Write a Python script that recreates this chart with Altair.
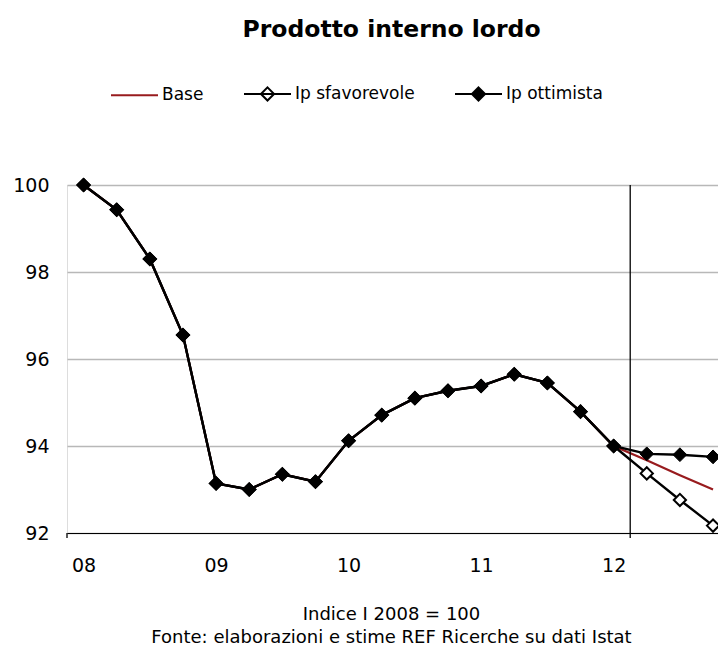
import altair as alt
import pandas as pd

# ---- data ----
quarters = ["2008-T1", "2008-T2", "2008-T3", "2008-T4",
            "2009-T1", "2009-T2", "2009-T3", "2009-T4",
            "2010-T1", "2010-T2", "2010-T3", "2010-T4",
            "2011-T1", "2011-T2", "2011-T3", "2011-T4",
            "2012-T1", "2012-T2", "2012-T3", "2012-T4"]
year_tick_idx = [0, 4, 8, 12, 16]
year_labels = ["08", "09", "10", "11", "12"]

history = [100.0, 99.43, 98.30, 96.55,
           93.14, 93.00, 93.35, 93.18,
           94.12, 94.71, 95.10, 95.27,
           95.38, 95.65, 95.45, 94.79,
           94.00]
base = history + [93.67, 93.33, 93.00]
sfavorevole = history + [93.37, 92.76, 92.17]
ottimista = history + [93.82, 93.80, 93.75]

series_names = ["Base", "Ip sfavorevole", "Ip ottimista"]
forecast_boundary = 16.5  # between 2012-T1 and 2012-T2

RED = "#981b1e"
FONT = "DejaVu Sans"

rows = []
for name, vals in zip(series_names, [base, sfavorevole, ottimista]):
    for i, (q, v) in enumerate(zip(quarters, vals)):
        rows.append({"serie": name, "trimestre": q, "idx": i, "valore": v})
df = pd.DataFrame(rows)

label_expr = "[" + ",".join(f"'{l}'" for l in year_labels) + "][round(datum.value/4)]"

x_enc = alt.X(
    "idx:Q",
    scale=alt.Scale(domain=[-0.5, 19.15], nice=False, zero=False),
    axis=alt.Axis(
        values=year_tick_idx, labelExpr=label_expr, ticks=False, grid=False,
        domainColor="black", domainWidth=1, labelFontSize=19, labelFont=FONT,
        labelColor="black", labelPadding=23, zindex=1,
        title=["Indice I 2008 = 100",
               "Fonte: elaborazioni e stime REF Ricerche su dati Istat"],
        titleFont=FONT, titleFontSize=18, titleFontWeight="normal",
        titleColor="black", titleX=324, titleY=72, titleBaseline="top",
        titleAlign="center", titleLineHeight=23,
    ),
)
y_enc = alt.Y(
    "valore:Q",
    scale=alt.Scale(domain=[92, 100], nice=False, zero=False),
    axis=alt.Axis(
        values=[92, 94, 96, 98, 100], domain=False, ticks=False, grid=True,
        gridColor="#b8b8b8", gridWidth=1.5, labelFontSize=19, labelFont=FONT,
        labelColor="black", labelPadding=18, title=None,
    ),
)

base_chart = alt.Chart(df)

line_base = base_chart.transform_filter(alt.datum.serie == "Base").mark_line(
    color=RED, strokeWidth=2.2).encode(x=x_enc, y=y_enc)
line_sfav = base_chart.transform_filter(alt.datum.serie == "Ip sfavorevole").mark_line(
    color="black", strokeWidth=2.4).encode(x=x_enc, y=y_enc)
pts_sfav = base_chart.transform_filter(alt.datum.serie == "Ip sfavorevole").mark_point(
    shape="diamond", size=150, filled=True, fill="white", stroke="black",
    strokeWidth=2, opacity=1).encode(x=x_enc, y=y_enc)
line_ott = base_chart.transform_filter(alt.datum.serie == "Ip ottimista").mark_line(
    color="black", strokeWidth=2.4).encode(x=x_enc, y=y_enc)
pts_ott = base_chart.transform_filter(alt.datum.serie == "Ip ottimista").mark_point(
    shape="diamond", size=190, filled=True, fill="black", stroke="black",
    strokeWidth=1, opacity=1).encode(x=x_enc, y=y_enc)

sep = pd.DataFrame({"pos": [forecast_boundary, -0.5], "top": [100, 92], "bottom": [91.885, 91.885]})
rules = alt.Chart(sep).mark_rule(color="black", strokeWidth=1.3).encode(
    x=alt.X("pos:Q"), y=alt.Y("top:Q"), y2="bottom:Q")

p_line = "M-1,0L1,0"
p_diam = "M-1,0L1,0M0,-0.28L0.28,0L0,0.28L-0.28,0Z"
leg = alt.Legend(orient="none", legendX=43, legendY=-116, direction="horizontal",
                 title=None, symbolSize=2209, symbolStrokeWidth=2,
                 labelFontSize=17, labelFont=FONT, labelColor="black",
                 labelOffset=3, columnPadding=36)
legend_layer = alt.Chart(pd.DataFrame({"serie": series_names})).transform_filter(
    "false").mark_point(filled=True, opacity=1).encode(
    shape=alt.Shape("serie:N", scale=alt.Scale(domain=series_names,
                    range=[p_line, p_diam, p_diam]), legend=leg),
    fill=alt.Fill("serie:N", scale=alt.Scale(domain=series_names,
                  range=["white", "white", "black"]), legend=leg),
    stroke=alt.Stroke("serie:N", scale=alt.Scale(domain=series_names,
                      range=[RED, "black", "black"]), legend=leg),
)

chart = alt.layer(
    line_base, line_sfav, pts_sfav, line_ott, pts_ott, rules, legend_layer
).properties(
    width=651, height=348, autosize="none",
    padding={"left": 59, "top": 177, "right": 0, "bottom": 114},
    title=alt.TitleParams("Prodotto interno lordo", fontSize=23.5, fontWeight="bold",
                          font=FONT, color="black", anchor="middle", frame="group",
                          dx=-1, offset=28),
).configure_view(stroke=None).configure(background="white", font=FONT)

chart.save("out.html", embed_options={"renderer": "svg", "actions": False})
